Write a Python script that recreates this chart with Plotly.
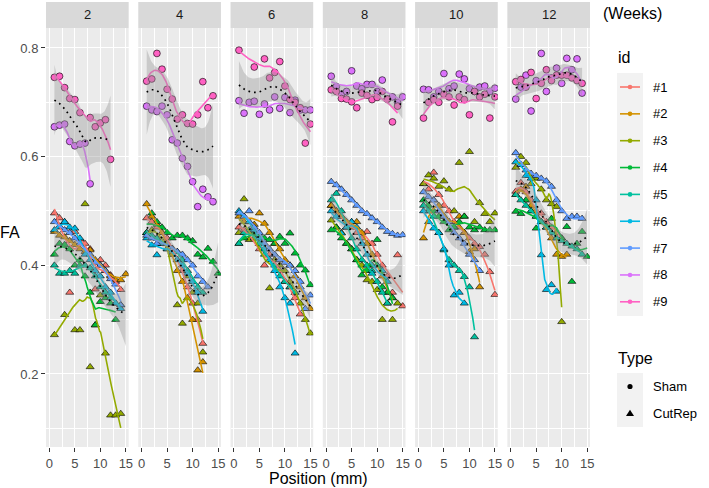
import numpy as np
import plotly.graph_objects as go

# ---------------- data ----------------
WEEKS = [2, 4, 6, 8, 10, 12]
IDS = ["#1", "#2", "#3", "#4", "#5", "#6", "#7", "#8", "#9"]
ID_COLORS = ["#F8766D", "#D39200", "#93AA00", "#00BA38", "#00C19F",
             "#00B9E3", "#619CFF", "#DB72FB", "#FF61C3"]
SHAM_IDS = ["#8", "#9"]
TYPES = ["Sham", "CutRep"]

R1_15 = list(range(1, 16))

W2 = {
    "#1": (R1_15[:14], [0.496, 0.487, 0.480, 0.350, 0.462, 0.448, 0.440, 0.430, 0.356, 0.410, 0.400, 0.382, 0.370, 0.355]),
    "#2": (R1_15, [0.462, 0.455, 0.452, 0.445, 0.438, 0.430, 0.425, 0.428, 0.410, 0.400, 0.390, 0.380, 0.373, 0.373, 0.384]),
    "#3": ([1, 3, 5, 6, 7, 8, 9, 10, 11, 12, 13, 14], [0.272, 0.309, 0.281, 0.281, 0.513, 0.213, 0.290, 0.345, 0.238, 0.124, 0.124, 0.127]),
    "#4": (R1_15[:13], [0.420, 0.440, 0.438, 0.430, 0.400, 0.410, 0.380, 0.350, 0.290, 0.333, 0.340, 0.330, 0.300]),
    "#5": (R1_15[:14], [0.400, 0.385, 0.385, 0.390, 0.385, 0.400, 0.400, 0.395, 0.380, 0.360, 0.350, 0.340, 0.330, 0.327]),
    "#6": (R1_15[:14], [0.465, 0.470, 0.480, 0.470, 0.468, 0.450, 0.420, 0.410, 0.390, 0.380, 0.360, 0.350, 0.330, 0.320]),
    "#7": (R1_15[:14], [0.480, 0.472, 0.465, 0.460, 0.450, 0.440, 0.430, 0.420, 0.405, 0.400, 0.390, 0.375, 0.365, 0.327]),
    "#8": (R1_15[:8], [0.655, 0.658, 0.660, 0.628, 0.620, 0.623, 0.625, 0.550]),
    "#9": ([1, 2, 3, 4, 5, 6, 8, 9, 10, 11, 12], [0.746, 0.748, 0.727, 0.707, 0.705, 0.681, 0.672, 0.655, 0.662, 0.668, 0.595]),
}
W4 = {
    "#1": (R1_15[:12], [0.487, 0.480, 0.470, 0.460, 0.450, 0.431, 0.410, 0.390, 0.360, 0.330, 0.300, 0.256]),
    "#2": (R1_15[:12], [0.513, 0.490, 0.475, 0.460, 0.440, 0.420, 0.390, 0.370, 0.340, 0.300, 0.207, 0.222]),
    "#3": (R1_15[:12], [0.460, 0.465, 0.450, 0.440, 0.430, 0.420, 0.327, 0.293, 0.380, 0.350, 0.330, 0.240]),
    "#4": (R1_15, [0.460, 0.496, 0.480, 0.470, 0.460, 0.450, 0.455, 0.455, 0.450, 0.445, 0.420, 0.415, 0.431, 0.407, 0.385]),
    "#5": (R1_15[:12], [0.460, 0.455, 0.450, 0.440, 0.440, 0.430, 0.425, 0.410, 0.390, 0.370, 0.360, 0.350]),
    "#6": (R1_15[:12], [0.450, 0.437, 0.419, 0.440, 0.430, 0.425, 0.410, 0.400, 0.385, 0.370, 0.350, 0.315]),
    "#7": (R1_15[:13], [0.455, 0.450, 0.440, 0.445, 0.440, 0.430, 0.425, 0.420, 0.410, 0.400, 0.380, 0.370, 0.360]),
    "#8": (R1_15[:14], [0.693, 0.686, 0.683, 0.693, 0.677, 0.631, 0.625, 0.597, 0.582, 0.554, 0.508, 0.540, 0.526, 0.517]),
    "#9": (R1_15[:14], [0.739, 0.743, 0.790, 0.761, 0.724, 0.706, 0.669, 0.677, 0.661, 0.660, 0.677, 0.738, 0.690, 0.712]),
}
W6 = {
    "#1": (R1_15[:13], [0.470, 0.465, 0.460, 0.450, 0.430, 0.400, 0.420, 0.410, 0.390, 0.370, 0.360, 0.340, 0.310]),
    "#2": (R1_15, [0.490, 0.480, 0.480, 0.475, 0.496, 0.477, 0.460, 0.440, 0.430, 0.410, 0.400, 0.380, 0.360, 0.340, 0.320]),
    "#3": (R1_15, [0.460, 0.522, 0.447, 0.450, 0.440, 0.430, 0.358, 0.410, 0.400, 0.390, 0.370, 0.350, 0.330, 0.300, 0.275]),
    "#4": (R1_15, [0.440, 0.450, 0.460, 0.460, 0.455, 0.450, 0.447, 0.440, 0.453, 0.440, 0.459, 0.422, 0.400, 0.391, 0.364]),
    "#5": (R1_15[:12], [0.440, 0.460, 0.465, 0.450, 0.440, 0.420, 0.410, 0.400, 0.380, 0.370, 0.360, 0.350]),
    "#6": (R1_15[:12], [0.500, 0.490, 0.480, 0.465, 0.450, 0.430, 0.410, 0.390, 0.360, 0.340, 0.330, 0.238]),
    "#7": (R1_15, [0.496, 0.490, 0.500, 0.470, 0.460, 0.440, 0.430, 0.420, 0.410, 0.405, 0.400, 0.390, 0.370, 0.320, 0.345]),
    "#8": (R1_15, [0.703, 0.680, 0.700, 0.702, 0.678, 0.697, 0.686, 0.710, 0.689, 0.709, 0.681, 0.704, 0.686, 0.686, 0.686]),
    "#9": ([1, 4, 6, 7, 8, 9, 10, 11, 12, 13, 14, 15], [0.796, 0.765, 0.780, 0.745, 0.755, 0.775, 0.730, 0.705, 0.700, 0.690, 0.625, 0.660]),
}
W8 = {
    "#1": (R1_15, [0.510, 0.500, 0.490, 0.470, 0.480, 0.460, 0.450, 0.462, 0.440, 0.420, 0.400, 0.380, 0.350, 0.419, 0.325]),
    "#2": (R1_15[:13], [0.510, 0.500, 0.490, 0.480, 0.470, 0.480, 0.460, 0.440, 0.420, 0.400, 0.380, 0.350, 0.340]),
    "#3": (R1_15[:14], [0.483, 0.470, 0.460, 0.440, 0.430, 0.410, 0.400, 0.373, 0.370, 0.355, 0.300, 0.330, 0.300, 0.330]),
    "#4": (R1_15[:13], [0.465, 0.470, 0.450, 0.440, 0.430, 0.410, 0.382, 0.390, 0.400, 0.447, 0.360, 0.350, 0.340]),
    "#5": (R1_15[:12], [0.520, 0.532, 0.500, 0.470, 0.450, 0.430, 0.410, 0.400, 0.390, 0.370, 0.350, 0.330]),
    "#6": (R1_15[:12], [0.500, 0.490, 0.459, 0.470, 0.480, 0.470, 0.440, 0.420, 0.385, 0.400, 0.390, 0.370]),
    "#7": (R1_15, [0.554, 0.548, 0.540, 0.530, 0.520, 0.510, 0.500, 0.495, 0.487, 0.480, 0.470, 0.462, 0.458, 0.455, 0.456]),
    "#8": (R1_15, [0.748, 0.729, 0.715, 0.720, 0.758, 0.730, 0.725, 0.733, 0.733, 0.720, 0.741, 0.706, 0.710, 0.700, 0.710]),
    "#9": (R1_15[:14], [0.723, 0.720, 0.707, 0.706, 0.701, 0.690, 0.717, 0.713, 0.705, 0.709, 0.720, 0.706, 0.664, 0.693]),
}
W10 = {
    "#1": (R1_15, [0.550, 0.540, 0.571, 0.530, 0.510, 0.500, 0.480, 0.470, 0.460, 0.450, 0.440, 0.434, 0.420, 0.388, 0.346]),
    "#2": (R1_15[:12], [0.450, 0.500, 0.520, 0.510, 0.490, 0.480, 0.470, 0.490, 0.460, 0.425, 0.430, 0.360]),
    "#3": (R1_15, [0.550, 0.566, 0.560, 0.545, 0.555, 0.540, 0.500, 0.589, 0.490, 0.609, 0.480, 0.515, 0.495, 0.480, 0.496]),
    "#4": (R1_15, [0.520, 0.510, 0.500, 0.490, 0.480, 0.465, 0.470, 0.480, 0.490, 0.470, 0.465, 0.470, 0.465, 0.465, 0.465]),
    "#5": (R1_15[:11], [0.510, 0.500, 0.490, 0.460, 0.428, 0.410, 0.400, 0.390, 0.379, 0.360, 0.268]),
    "#6": (R1_15[:9], [0.500, 0.480, 0.468, 0.460, 0.430, 0.400, 0.345, 0.350, 0.330]),
    "#7": (R1_15[:12], [0.535, 0.526, 0.520, 0.500, 0.490, 0.480, 0.460, 0.450, 0.440, 0.420, 0.410, 0.390]),
    "#8": (R1_15, [0.724, 0.723, 0.710, 0.720, 0.753, 0.725, 0.730, 0.752, 0.743, 0.725, 0.720, 0.728, 0.730, 0.720, 0.726]),
    "#9": (R1_15, [0.671, 0.700, 0.705, 0.700, 0.715, 0.710, 0.695, 0.710, 0.705, 0.677, 0.720, 0.710, 0.715, 0.671, 0.710]),
}
W12 = {
    "#1": (R1_15[:10], [0.536, 0.552, 0.535, 0.520, 0.500, 0.496, 0.480, 0.470, 0.460, 0.450]),
    "#2": (R1_15[:11], [0.530, 0.540, 0.545, 0.510, 0.490, 0.480, 0.470, 0.450, 0.420, 0.416, 0.420]),
    "#3": (R1_15[:10], [0.580, 0.600, 0.589, 0.550, 0.560, 0.540, 0.520, 0.513, 0.508, 0.296]),
    "#4": (R1_15, [0.499, 0.495, 0.520, 0.500, 0.468, 0.480, 0.470, 0.486, 0.460, 0.450, 0.471, 0.370, 0.440, 0.462, 0.416]),
    "#5": (R1_15[:14], [0.530, 0.520, 0.510, 0.500, 0.490, 0.480, 0.470, 0.460, 0.450, 0.445, 0.440, 0.435, 0.430, 0.420]),
    "#6": (R1_15[:9], [0.590, 0.585, 0.565, 0.560, 0.520, 0.419, 0.355, 0.364, 0.352]),
    "#7": (R1_15[:14], [0.607, 0.585, 0.575, 0.569, 0.565, 0.560, 0.555, 0.545, 0.520, 0.500, 0.486, 0.490, 0.490, 0.486]),
    "#8": (R1_15[:14], [0.706, 0.728, 0.750, 0.684, 0.740, 0.790, 0.720, 0.745, 0.763, 0.735, 0.781, 0.760, 0.780, 0.717]),
    "#9": (R1_15[:14], [0.738, 0.742, 0.728, 0.755, 0.707, 0.735, 0.760, 0.740, 0.750, 0.750, 0.750, 0.745, 0.740, 0.735]),
}
WEEK_DATA = {2: W2, 4: W4, 6: W6, 8: W8, 10: W10, 12: W12}

X_TICKS = [0, 5, 10, 15]
Y_TICKS = [0.2, 0.4, 0.6, 0.8]
Y_TICK_TEXT = ["0.2", "0.4", "0.6", "0.8"]


# ---------------- loess (span .75, degree 2, tricube) ----------------
def _row(x, x0, q):
    d = np.abs(x - x0)
    h = max(np.sort(d)[q - 1], 1e-9)
    u = d / h
    w = np.where(u < 1, (1 - u ** 3) ** 3, 0.0)
    A = np.vstack([np.ones_like(x), x - x0, (x - x0) ** 2]).T
    WA = A * w[:, None]
    M = A.T @ WA
    return (np.linalg.pinv(M) @ WA.T)[0]


def loess(x, y, xe, span=0.75, se=False):
    x = np.asarray(x, float)
    y = np.asarray(y, float)
    n = len(x)
    q = max(int(np.floor(n * span)), 4)
    q = min(q, n)
    Le = np.array([_row(x, x0, q) for x0 in xe])
    fit = Le @ y
    if not se:
        return fit
    L = np.array([_row(x, xi, q) for xi in x])
    IL = np.eye(n) - L
    B = IL.T @ IL
    d1 = np.trace(B)
    d2 = np.trace(B @ B)
    res = y - L @ y
    sigma = np.sqrt(np.sum(res ** 2) / d1)
    s = sigma * np.sqrt((Le ** 2).sum(axis=1))
    df = d1 ** 2 / d2
    z = 1.959964
    t = z + (z ** 3 + z) / (4 * df) + (5 * z ** 5 + 16 * z ** 3 + 3 * z) / (96 * df ** 2)
    return fit, fit - t * s, fit + t * s


# ---------------- geometry ----------------
W, H = 709, 488
ML, MR, MT, MB = 46, 119, 28, 41
PW, PH = W - ML - MR, H - MT - MB
PANEL_W, GAP = 82.67, 9.6


def pxx(v):
    return (v - ML) / PW


def pxy(v):
    return (H - MB - v) / PH


FONT = "Liberation Sans, Arial, Helvetica, sans-serif"

fig = go.Figure()
shapes, annotations = [], []
layout_axes = {}

for k, wk in enumerate(WEEKS):
    sfx = "" if k == 0 else str(k + 1)
    xa, ya = "x" + sfx, "y" + sfx
    data = WEEK_DATA[wk]

    # points
    for i, pid in enumerate(IDS):
        xs, ys = data[pid]
        sham = pid in SHAM_IDS
        fig.add_trace(go.Scatter(
            x=xs, y=ys, mode="markers", xaxis=xa, yaxis=ya, showlegend=False,
            hoverinfo="skip",
            marker=dict(symbol="circle" if sham else "triangle-up",
                        size=6.8 if sham else 7.0, color=ID_COLORS[i],
                        line=dict(color="black", width=0.6))))
    # per-id smooth lines
    for i, pid in enumerate(IDS):
        xs, ys = data[pid]
        xe = np.linspace(min(xs), max(xs), 80)
        fit = loess(xs, ys, xe)
        fig.add_trace(go.Scatter(
            x=xe, y=fit, mode="lines", xaxis=xa, yaxis=ya, showlegend=False,
            hoverinfo="skip", line=dict(color=ID_COLORS[i], width=1.6)))
    # per-type smooth with ribbon
    for typ in TYPES:
        px_, py_ = [], []
        for pid in IDS:
            if (pid in SHAM_IDS) == (typ == "Sham"):
                px_ += list(data[pid][0])
                py_ += list(data[pid][1])
        xe = np.linspace(min(px_), max(px_), 80)
        fit, lo, hi = loess(px_, py_, xe, se=True)
        fig.add_trace(go.Scatter(
            x=np.concatenate([xe, xe[::-1]]), y=np.concatenate([hi, lo[::-1]]),
            mode="lines", fill="toself", fillcolor="rgba(153,153,153,0.4)",
            line=dict(width=0), xaxis=xa, yaxis=ya, showlegend=False, hoverinfo="skip"))
        fig.add_trace(go.Scatter(
            x=xe, y=fit, mode="lines", xaxis=xa, yaxis=ya, showlegend=False,
            hoverinfo="skip", line=dict(color="black", width=1.7, dash="1.7px,4px")))

    left = k * (PANEL_W + GAP)
    d0, d1 = left / PW, (left + PANEL_W) / PW
    layout_axes["xaxis" + sfx] = dict(
        domain=[d0, min(d1, 1.0)], anchor=ya, range=[-0.65, 15.55],
        tickmode="array", tickvals=X_TICKS, ticktext=[str(v) for v in X_TICKS],
        showgrid=True, gridcolor="white", gridwidth=1.3, zeroline=False,
        minor=dict(tickmode="array", tickvals=[2.5, 7.5, 12.5], showgrid=True,
                   gridcolor="white", gridwidth=0.6, ticks=""),
        ticks="outside", ticklen=4, tickwidth=1, tickcolor="#333333",
        tickfont=dict(size=13, color="#4D4D4D", family=FONT), showline=False)
    layout_axes["yaxis" + sfx] = dict(
        domain=[0, 1], anchor=xa, range=[0.0656, 0.8368],
        tickmode="array", tickvals=Y_TICKS, ticktext=Y_TICK_TEXT,
        showticklabels=(k == 0), ticks="outside" if k == 0 else "",
        ticklen=4, tickwidth=1, tickcolor="#333333",
        tickfont=dict(size=13, color="#4D4D4D", family=FONT),
        showgrid=True, gridcolor="white", gridwidth=1.3, zeroline=False,
        minor=dict(tickmode="array", tickvals=[0.1, 0.3, 0.5, 0.7], showgrid=True,
                   gridcolor="white", gridwidth=0.6, ticks=""),
        showline=False)

    # facet strip
    shapes.append(dict(type="rect", xref="paper", yref="paper", x0=d0, x1=d1,
                       y0=1.0, y1=pxy(2), fillcolor="#D9D9D9", line=dict(width=0),
                       layer="below"))
    annotations.append(dict(text=str(wk), xref="paper", yref="paper",
                            x=(d0 + d1) / 2, y=pxy(15), showarrow=False,
                            xanchor="center", yanchor="middle",
                            font=dict(size=13, color="#1A1A1A", family=FONT)))

# axis titles
annotations.append(dict(text="FA", xref="paper", yref="paper", x=pxx(10), y=pxy(232),
                        showarrow=False, xanchor="center", yanchor="middle",
                        font=dict(size=16, color="black", family=FONT)))
annotations.append(dict(text="Position (mm)", xref="paper", yref="paper", x=pxx(318),
                        y=pxy(478), showarrow=False, xanchor="center", yanchor="middle",
                        font=dict(size=16, color="black", family=FONT)))
annotations.append(dict(text="(Weeks)", xref="paper", yref="paper", x=pxx(632),
                        y=pxy(14), showarrow=False, xanchor="center", yanchor="middle",
                        font=dict(size=16, color="black", family=FONT)))

# ---------------- legends (drawn) ----------------
annotations.append(dict(text="id", xref="paper", yref="paper", x=pxx(616), y=pxy(57),
                        showarrow=False, xanchor="left", yanchor="middle",
                        font=dict(size=16, color="black", family=FONT)))
shapes.append(dict(type="rect", xref="paper", yref="paper", x0=pxx(617), x1=pxx(643),
                   y0=pxy(316), y1=pxy(73), fillcolor="#F2F2F2", line=dict(width=0)))
for i, pid in enumerate(IDS):
    yk = 87 + 26.85 * i
    shapes.append(dict(type="line", xref="paper", yref="paper", x0=pxx(620), x1=pxx(640),
                       y0=pxy(yk), y1=pxy(yk), line=dict(color=ID_COLORS[i], width=1.6)))
    r = 2.3
    shapes.append(dict(type="circle", xref="paper", yref="paper", x0=pxx(630 - r),
                       x1=pxx(630 + r), y0=pxy(yk + r), y1=pxy(yk - r),
                       fillcolor=ID_COLORS[i], line=dict(width=0)))
    annotations.append(dict(text=pid, xref="paper", yref="paper", x=pxx(651), y=pxy(yk),
                            showarrow=False, xanchor="left", yanchor="middle",
                            font=dict(size=13, color="black", family=FONT)))

annotations.append(dict(text="Type", xref="paper", yref="paper", x=pxx(616), y=pxy(358),
                        showarrow=False, xanchor="left", yanchor="middle",
                        font=dict(size=16, color="black", family=FONT)))
shapes.append(dict(type="rect", xref="paper", yref="paper", x0=pxx(617), x1=pxx(643),
                   y0=pxy(427), y1=pxy(373), fillcolor="#F2F2F2", line=dict(width=0)))
ys_sham, ys_cut = 386.5, 413.4
r = 2.6
shapes.append(dict(type="circle", xref="paper", yref="paper", x0=pxx(630 - r), x1=pxx(630 + r),
                   y0=pxy(ys_sham + r), y1=pxy(ys_sham - r), fillcolor="black",
                   line=dict(width=0)))
tri = "M {},{} L {},{} L {},{} Z".format(pxx(630), pxy(ys_cut - 3.6), pxx(626), pxy(ys_cut + 2.6),
                                         pxx(634), pxy(ys_cut + 2.6))
shapes.append(dict(type="path", xref="paper", yref="paper", path=tri, fillcolor="black",
                   line=dict(width=0)))
for lab, yk in (("Sham", ys_sham), ("CutRep", ys_cut)):
    annotations.append(dict(text=lab, xref="paper", yref="paper", x=pxx(651), y=pxy(yk),
                            showarrow=False, xanchor="left", yanchor="middle",
                            font=dict(size=13, color="black", family=FONT)))

fig.update_layout(
    width=W, height=H, margin=dict(l=ML, r=MR, t=MT, b=MB, pad=0),
    paper_bgcolor="white", plot_bgcolor="#EBEBEB", showlegend=False,
    font=dict(family=FONT, size=13, color="black"),
    shapes=shapes, annotations=annotations, **layout_axes)

fig.write_html("out.html")
